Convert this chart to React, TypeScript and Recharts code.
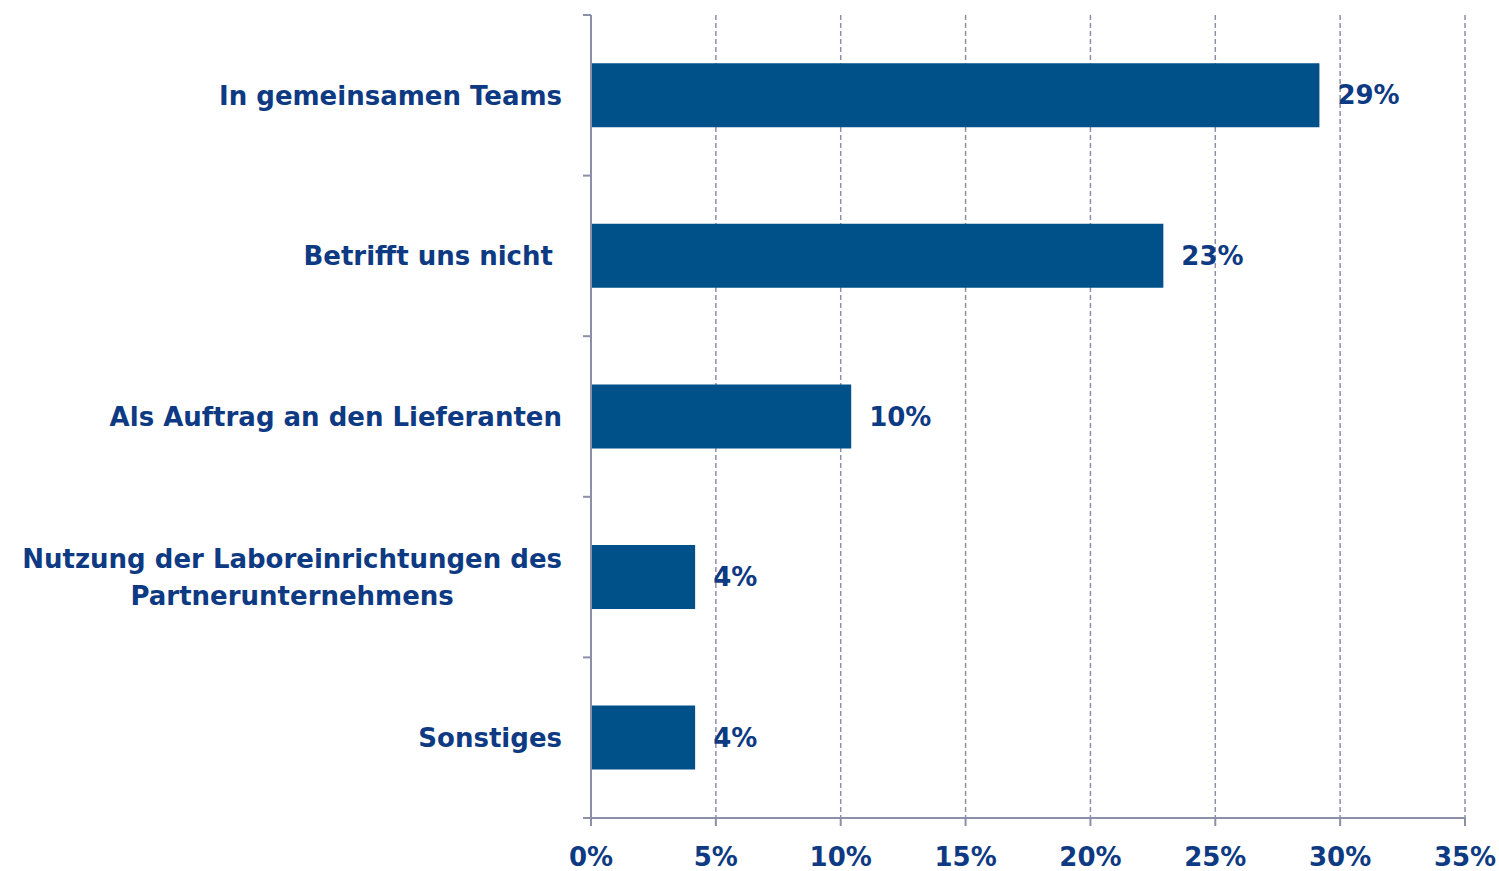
import React from 'react';
import { BarChart, Bar, XAxis, YAxis, CartesianGrid, LabelList } from 'recharts';

const categories: string[][] = [
  ['In gemeinsamen Teams'],
  ['Betrifft uns nicht\u00A0'],
  ['Als Auftrag an den Lieferanten'],
  ['Nutzung der Laboreinrichtungen des', 'Partnerunternehmens'],
  ['Sonstiges'],
];
const values: number[] = [29.17, 22.92, 10.42, 4.17, 4.17];
const xTicks: number[] = [0, 5, 10, 15, 20, 25, 30, 35];

const data = categories.map((c, i) => ({ name: c.join('\n'), value: values[i] }));

const W = 1499;
const H = 871;
const X_HEIGHT = 53;
const MARGIN = { top: 15, right: 34, bottom: 0, left: 0 };
const Y_WIDTH = 591;
const AXIS = '#8C8FA8';
const TEXT = '#0D3A82';
const BAR = '#00508A';
const FONT_FAMILY = "'DejaVu Sans', sans-serif";
const FONT_SIZE = 26;
const BAND = (H - MARGIN.top - MARGIN.bottom - X_HEIGHT) / categories.length;

let ctx: CanvasRenderingContext2D | null = null;
function measure(t: string): number {
  if (!ctx) {
    const c = document.createElement('canvas');
    ctx = c.getContext('2d');
  }
  if (!ctx) return t.length * 15;
  ctx.font = `bold ${FONT_SIZE}px ${FONT_FAMILY}`;
  return ctx.measureText(t).width;
}

const YTick = (props: any) => {
  const { x, y, payload, index } = props;
  const lines: string[] = String(payload.value).split('\n');
  const axisX = x + 8;
  const right = x - 21;
  const widths = lines.map(measure);
  const maxW = Math.max(...widths);
  const lh = 37;
  const startY = y - ((lines.length - 1) * lh) / 2;
  return (
    <g>
      <line x1={axisX - 8} x2={axisX} y1={y - BAND / 2} y2={y - BAND / 2} stroke={AXIS} strokeWidth={2} />
      {index === categories.length - 1 && (
        <line x1={axisX - 8} x2={axisX} y1={y + BAND / 2} y2={y + BAND / 2} stroke={AXIS} strokeWidth={2} />
      )}
      {lines.map((l, i) => (
        <text
          key={i}
          x={lines.length > 1 ? right - maxW / 2 : right}
          y={startY + i * lh}
          dy="0.36em"
          textAnchor={lines.length > 1 ? 'middle' : 'end'}
          fill={TEXT}
          fontFamily={FONT_FAMILY}
          fontWeight="bold"
          fontSize={FONT_SIZE}
          style={{ whiteSpace: 'pre' }}
        >
          {l}
        </text>
      ))}
    </g>
  );
};

export default function App() {
  return (
    <div style={{ position: 'absolute', left: 0, top: 0, width: W, height: H, background: '#fff' }}>
      <BarChart
        width={W}
        height={H}
        data={data}
        layout="vertical"
        margin={MARGIN}
        barCategoryGap="30%"
      >
        <CartesianGrid horizontal={false} vertical={true} stroke={AXIS} strokeWidth={1.5} strokeDasharray="5 3" />
        <XAxis
          type="number"
          domain={[0, 35]}
          ticks={xTicks}
          interval={0}
          height={X_HEIGHT}
          tickFormatter={(v: number) => `${v}%`}
          axisLine={{ stroke: AXIS, strokeWidth: 2 }}
          tickLine={{ stroke: AXIS, strokeWidth: 2 }}
          tickSize={8}
          tickMargin={22}
          tick={{ fill: TEXT, fontFamily: FONT_FAMILY, fontWeight: 'bold', fontSize: FONT_SIZE }}
        />
        <YAxis
          type="category"
          dataKey="name"
          width={Y_WIDTH}
          axisLine={{ stroke: AXIS, strokeWidth: 2 }}
          tickLine={false}
          interval={0}
          tick={<YTick />}
        />
        <Bar dataKey="value" fill={BAR} isAnimationActive={false}>
          <LabelList
            dataKey="value"
            position="right"
            offset={18}
            formatter={(v: any) => `${Math.round(Number(v))}%`}
            fill={TEXT}
            fontFamily={FONT_FAMILY}
            fontWeight="bold"
            fontSize={FONT_SIZE}
          />
        </Bar>
      </BarChart>
    </div>
  );
}
